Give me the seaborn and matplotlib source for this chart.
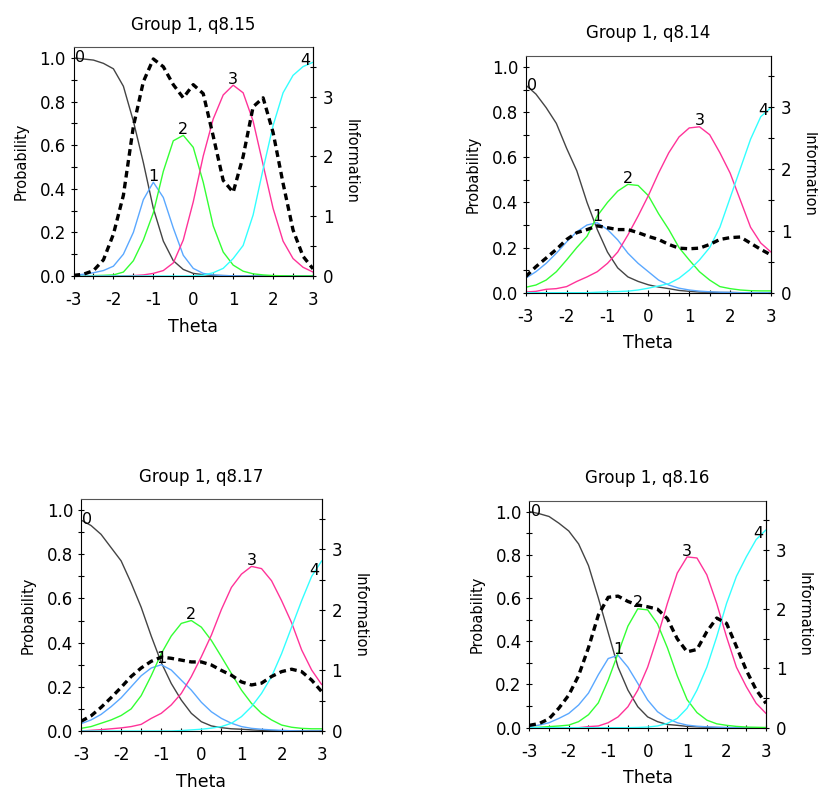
import numpy as np
import pandas as pd
import matplotlib
matplotlib.use("Agg")
import matplotlib.pyplot as plt
import seaborn as sns

# ---------------- data ----------------
THETA = [-3.0, -2.75, -2.5, -2.25, -2.0, -1.75, -1.5, -1.25, -1.0, -0.75, -0.5, -0.25,
         0.0, 0.25, 0.5, 0.75, 1.0, 1.25, 1.5, 1.75, 2.0, 2.25, 2.5, 2.75, 3.0]
CATEGORIES = ["0", "1", "2", "3", "4"]

TITLE_815 = "Group 1, q8.15"
TITLE_814 = "Group 1, q8.14"
TITLE_817 = "Group 1, q8.17"
TITLE_816 = "Group 1, q8.16"

# q8.15
Q815_P0 = [1.00, 0.995, 0.99, 0.975, 0.95, 0.87, 0.71, 0.52, 0.31, 0.16, 0.07, 0.03, 0.012, 0.006, 0.003, 0.002, 0.001, 0, 0, 0, 0, 0, 0, 0, 0]
Q815_P1 = [0.004, 0.008, 0.015, 0.025, 0.045, 0.10, 0.20, 0.35, 0.43, 0.36, 0.22, 0.095, 0.035, 0.012, 0.005, 0.002, 0.001, 0, 0, 0, 0, 0, 0, 0, 0]
Q815_P2 = [0, 0.001, 0.002, 0.003, 0.005, 0.018, 0.07, 0.165, 0.29, 0.48, 0.62, 0.645, 0.59, 0.43, 0.23, 0.11, 0.05, 0.022, 0.01, 0.005, 0.002, 0.001, 0, 0, 0]
Q815_P3 = [0, 0, 0, 0, 0, 0.001, 0.002, 0.005, 0.012, 0.025, 0.06, 0.165, 0.34, 0.55, 0.72, 0.83, 0.875, 0.84, 0.71, 0.51, 0.31, 0.16, 0.08, 0.04, 0.018]
Q815_P4 = [0, 0, 0, 0, 0, 0, 0, 0, 0, 0, 0, 0, 0.001, 0.004, 0.015, 0.035, 0.08, 0.14, 0.28, 0.49, 0.69, 0.84, 0.92, 0.96, 0.98]
Q815_INFO = [0.01, 0.03, 0.09, 0.27, 0.70, 1.35, 2.5, 3.25, 3.63, 3.5, 3.2, 2.98, 3.2, 3.05, 2.34, 1.6, 1.4, 2.0, 2.83, 2.98, 2.4, 1.55, 0.77, 0.33, 0.12]

# q8.14
Q814_P0 = [0.92, 0.88, 0.82, 0.75, 0.64, 0.54, 0.40, 0.28, 0.18, 0.11, 0.07, 0.05, 0.035, 0.025, 0.018, 0.01, 0.006, 0.003, 0.002, 0.001, 0.001, 0, 0, 0, 0]
Q814_P1 = [0.064, 0.093, 0.13, 0.175, 0.225, 0.27, 0.30, 0.31, 0.28, 0.234, 0.175, 0.13, 0.093, 0.056, 0.034, 0.02, 0.012, 0.007, 0.004, 0.002, 0.001, 0, 0, 0, 0]
Q814_P2 = [0.024, 0.034, 0.056, 0.093, 0.145, 0.20, 0.25, 0.34, 0.40, 0.45, 0.48, 0.475, 0.43, 0.35, 0.28, 0.20, 0.145, 0.093, 0.056, 0.027, 0.018, 0.012, 0.009, 0.008, 0.008]
Q814_P3 = [0.003, 0.006, 0.015, 0.018, 0.027, 0.05, 0.07, 0.093, 0.13, 0.18, 0.256, 0.34, 0.43, 0.53, 0.62, 0.69, 0.73, 0.735, 0.70, 0.62, 0.53, 0.41, 0.29, 0.22, 0.18]
Q814_P4 = [0, 0, 0, 0, 0, 0, 0, 0.002, 0.004, 0.005, 0.007, 0.012, 0.02, 0.03, 0.04, 0.064, 0.10, 0.145, 0.20, 0.29, 0.42, 0.55, 0.68, 0.78, 0.82]
Q814_INFO = [0.26, 0.42, 0.56, 0.70, 0.86, 0.97, 1.02, 1.08, 1.05, 1.02, 1.02, 0.97, 0.91, 0.86, 0.78, 0.72, 0.71, 0.72, 0.78, 0.86, 0.89, 0.90, 0.80, 0.70, 0.61]

# q8.17
Q817_P0 = [0.955, 0.93, 0.89, 0.83, 0.77, 0.67, 0.56, 0.43, 0.31, 0.215, 0.14, 0.08, 0.042, 0.023, 0.015, 0.01, 0.008, 0.005, 0.003, 0.002, 0.001, 0, 0, 0, 0]
Q817_P1 = [0.033, 0.05, 0.075, 0.11, 0.15, 0.20, 0.25, 0.285, 0.30, 0.276, 0.23, 0.185, 0.13, 0.087, 0.057, 0.035, 0.02, 0.012, 0.008, 0.005, 0.003, 0.001, 0, 0, 0]
Q817_P2 = [0.012, 0.02, 0.035, 0.05, 0.07, 0.10, 0.16, 0.25, 0.35, 0.43, 0.487, 0.50, 0.47, 0.41, 0.336, 0.26, 0.185, 0.125, 0.08, 0.05, 0.027, 0.017, 0.012, 0.01, 0.01]
Q817_P3 = [0, 0.003, 0.006, 0.01, 0.014, 0.02, 0.03, 0.057, 0.08, 0.118, 0.17, 0.246, 0.336, 0.434, 0.55, 0.65, 0.71, 0.745, 0.735, 0.68, 0.59, 0.49, 0.367, 0.276, 0.21]
Q817_P4 = [0, 0, 0, 0, 0, 0, 0, 0, 0, 0, 0.002, 0.005, 0.008, 0.013, 0.02, 0.035, 0.065, 0.11, 0.17, 0.246, 0.35, 0.47, 0.59, 0.70, 0.77]
Q817_INFO = [0.16, 0.25, 0.39, 0.55, 0.72, 0.90, 1.04, 1.15, 1.22, 1.20, 1.17, 1.14, 1.14, 1.09, 1.0, 0.92, 0.81, 0.76, 0.79, 0.90, 0.98, 1.02, 0.98, 0.84, 0.65]

# q8.16
Q816_P0 = [1.0, 0.99, 0.977, 0.946, 0.91, 0.85, 0.75, 0.60, 0.44, 0.28, 0.174, 0.097, 0.05, 0.028, 0.015, 0.011, 0.006, 0.004, 0.002, 0.001, 0, 0, 0, 0, 0]
Q816_P1 = [0.005, 0.012, 0.023, 0.043, 0.066, 0.105, 0.16, 0.245, 0.32, 0.335, 0.28, 0.205, 0.128, 0.074, 0.043, 0.023, 0.012, 0.007, 0.004, 0.002, 0.001, 0, 0, 0, 0]
Q816_P2 = [0, 0.002, 0.005, 0.008, 0.012, 0.028, 0.06, 0.115, 0.22, 0.344, 0.47, 0.55, 0.545, 0.48, 0.37, 0.24, 0.13, 0.07, 0.035, 0.018, 0.011, 0.006, 0.003, 0.002, 0.001]
Q816_P3 = [0, 0, 0, 0, 0, 0, 0.005, 0.008, 0.023, 0.05, 0.097, 0.174, 0.28, 0.42, 0.575, 0.715, 0.79, 0.785, 0.707, 0.575, 0.42, 0.28, 0.19, 0.113, 0.066]
Q816_P4 = [0, 0, 0, 0, 0, 0, 0, 0, 0, 0, 0, 0.001, 0.003, 0.008, 0.02, 0.043, 0.09, 0.174, 0.28, 0.42, 0.575, 0.70, 0.79, 0.87, 0.915]
Q816_INFO = [0.04, 0.07, 0.15, 0.33, 0.55, 0.88, 1.35, 1.9, 2.2, 2.22, 2.13, 2.07, 2.04, 2.0, 1.84, 1.5, 1.28, 1.32, 1.62, 1.85, 1.76, 1.37, 0.97, 0.64, 0.41]

PROB_TICKS = [0.0, 0.2, 0.4, 0.6, 0.8, 1.0]
PROB_MINOR = [0.1, 0.3, 0.5, 0.7, 0.9]
THETA_TICKS = [-3, -2, -1, 0, 1, 2, 3]
THETA_MINOR = [-2.5, -1.5, -0.5, 0.5, 1.5, 2.5]
INFO_TICKS = [0, 1, 2, 3]
INFO_MINOR = [0.5, 1.5, 2.5, 3.5]

# ---------------- style ----------------
sns.set_style("ticks")
plt.rcParams["font.family"] = ["DejaVu Sans"]
plt.rcParams["text.color"] = "black"
plt.rcParams["axes.labelcolor"] = "black"
plt.rcParams["xtick.color"] = "black"
plt.rcParams["ytick.color"] = "black"

COLORS = ["#444444", "#5aa8ff", "#33ff33", "#ff3399", "#33ffff"]
SPINE = "#555555"

fig = plt.figure(figsize=(8.18, 7.89), dpi=100)
W, H = 818.0, 789.0

def rect(left, top, right, bottom):
    return [left / W, (H - bottom) / H, (right - left) / W, (bottom - top) / H]

panels = [
    (TITLE_815, [Q815_P0, Q815_P1, Q815_P2, Q815_P3, Q815_P4], Q815_INFO, rect(73.5, 47, 313, 276)),
    (TITLE_814, [Q814_P0, Q814_P1, Q814_P2, Q814_P3, Q814_P4], Q814_INFO, rect(525.7, 55.7, 771, 292.7)),
    (TITLE_817, [Q817_P0, Q817_P1, Q817_P2, Q817_P3, Q817_P4], Q817_INFO, rect(81, 499, 321.7, 731)),
    (TITLE_816, [Q816_P0, Q816_P1, Q816_P2, Q816_P3, Q816_P4], Q816_INFO, rect(529.3, 500.7, 766, 727.7)),
]

for title, probs, info, r in panels:
    ax = fig.add_axes(r)
    df = pd.DataFrame({
        "Theta": THETA * len(CATEGORIES),
        "Probability": [v for p in probs for v in p],
        "Category": [c for c, p in zip(CATEGORIES, probs) for _ in p],
    })
    sns.lineplot(data=df, x="Theta", y="Probability", hue="Category",
                 hue_order=CATEGORIES, palette=COLORS, linewidth=1.0,
                 legend=False, estimator=None, ax=ax)
    ax.set_xlim(-3, 3)
    ax.set_ylim(0, 1.05)
    ax.set_xticks(THETA_TICKS)
    ax.set_xticklabels([str(t) for t in THETA_TICKS])
    ax.set_xticks(THETA_MINOR, minor=True)
    ax.set_yticks(PROB_TICKS)
    ax.set_yticklabels([f"{t:.1f}" for t in PROB_TICKS])
    ax.set_yticks(PROB_MINOR, minor=True)
    ax.tick_params(axis="both", which="both", direction="inout", length=5,
                   width=0.8, color="black", labelsize=12, labelcolor="black")
    ax.tick_params(axis="x", which="both", pad=8.5)
    ax.tick_params(axis="y", which="both", pad=3.0)
    ax.set_xlabel("Theta", fontsize=12.5, labelpad=6, color="black")
    ax.set_ylabel("Probability", fontsize=10.5, labelpad=8, color="black")
    ax.set_title(title, fontsize=12, pad=12.5, color="black")
    for s in ax.spines.values():
        s.set_visible(True)
        s.set_color(SPINE)
        s.set_linewidth(0.8)
    ax.spines["left"].set_color("black")
    ax.spines["bottom"].set_color("black")

    # category labels at curve extremes
    for k, (cat, p) in enumerate(zip(CATEGORIES, probs)):
        if k == 0:
            ax.annotate(cat, (THETA[0], p[0]), xytext=(1, 0), textcoords="offset points",
                        ha="left", va="center", fontsize=11.5, color="black")
        elif k == len(CATEGORIES) - 1:
            ax.annotate(cat, (THETA[-1], p[-2]), xytext=(-2, 1), textcoords="offset points",
                        ha="right", va="baseline", fontsize=11.5, color="black")
        else:
            i = int(np.argmax(p))
            ax.annotate(cat, (THETA[i], p[i]), xytext=(0, 1), textcoords="offset points",
                        ha="center", va="baseline", fontsize=11.5, color="black")

    ax2 = ax.twinx()
    sns.lineplot(x=THETA, y=info, ax=ax2, color="black", linewidth=2.4,
                 linestyle=(0, (2.0, 1.3)), estimator=None)
    ax2.set_ylim(0, 3.83)
    ax2.set_xlim(-3, 3)
    ax2.set_yticks(INFO_TICKS)
    ax2.set_yticklabels([str(t) for t in INFO_TICKS])
    ax2.set_yticks(INFO_MINOR, minor=True)
    ax2.tick_params(axis="y", which="both", direction="inout", length=5, width=0.8,
                    color="black", labelsize=12, labelcolor="black", pad=4.5,
                    right=True, left=False)
    ax2.set_ylabel("Information", fontsize=10.5, rotation=270, va="bottom",
                   labelpad=7.5, color="black")
    for s in ax2.spines.values():
        s.set_visible(False)
    ax2.spines["right"].set_visible(True)
    ax2.spines["right"].set_color("black")
    ax2.spines["right"].set_linewidth(0.8)

fig.savefig("out.png", dpi=100)
